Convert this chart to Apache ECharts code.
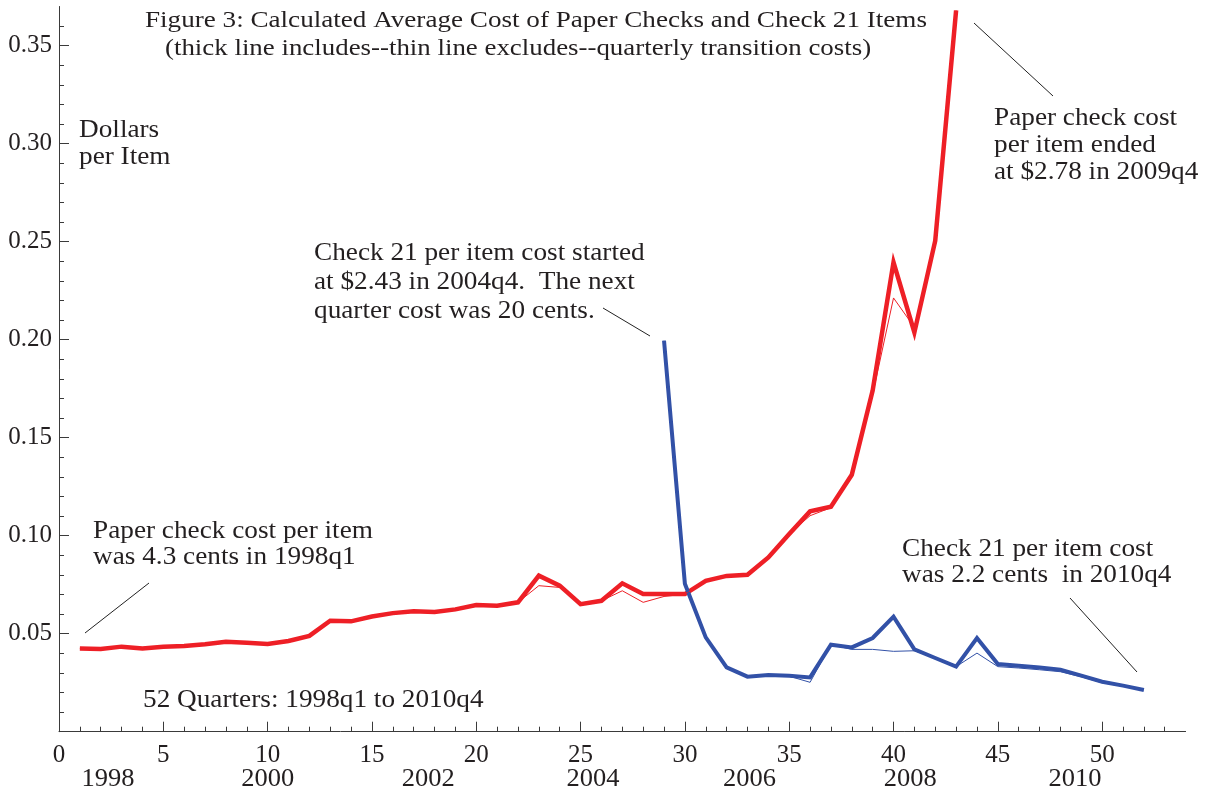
<!DOCTYPE html>
<html><head><meta charset="utf-8">
<script src="https://cdn.jsdelivr.net/npm/echarts@6/dist/echarts.min.js"></script>
<style>html,body{margin:0;padding:0;background:#fff}#c{width:1206px;height:792px}</style>
</head><body><div id="c"></div>
<script>
// Quarter index 1 = 1998q1
const paperStartQuarter = 1;
const paperThick = [0.0425,0.0422,0.0434,0.0425,0.0434,0.0437,0.0446,0.0459,0.0454,0.0447,
  0.0463,0.0489,0.0566,0.0563,0.0588,0.0605,0.0614,0.0611,0.0624,0.0646,
  0.0643,0.0660,0.0796,0.0745,0.0651,0.0668,0.0757,0.0702,0.0702,0.0702,
  0.0770,0.0795,0.0801,0.0889,0.1009,0.1124,0.1148,0.1311,0.1740,0.2395,
  0.2037,0.2505,0.3680];
const paperThin = [0.0425,0.0422,0.0434,0.0425,0.0434,0.0437,0.0446,0.0459,0.0454,0.0447,
  0.0463,0.0489,0.0566,0.0563,0.0588,0.0605,0.0614,0.0611,0.0624,0.0646,
  0.0643,0.0660,0.0745,0.0736,0.0651,0.0668,0.0719,0.0660,0.0690,0.0702,
  0.0765,0.0790,0.0798,0.0889,0.1009,0.1102,0.1143,0.1311,0.1720,0.2213,
  0.2063,0.2505,0.3680];
const check21StartQuarter = 29;
const check21Thick = [0.1995,0.0755,0.0481,0.0328,0.0281,0.0289,0.0286,0.0277,0.0444,0.0430,
  0.0478,0.0587,0.0420,0.0376,0.0332,0.0478,0.0345,0.0337,0.0328,0.0316,
  0.0286,0.0255,0.0235,0.0213];
const check21Thin = [0.1995,0.0755,0.0481,0.0328,0.0281,0.0289,0.0283,0.0252,0.0444,0.0420,
  0.0420,0.0410,0.0413,0.0376,0.0332,0.0401,0.0332,0.0325,0.0316,0.0306,
  0.0280,0.0250,0.0232,0.0213];

const xMajorTicks = [0,5,10,15,20,25,30,35,40,45,50];
const xMinorTicks = [1,2,3,4,6,7,8,9,11,12,13,14,16,17,18,19,21,22,23,24,26,27,28,29,
  31,32,33,34,36,37,38,39,41,42,43,44,46,47,48,49,51,52,53];
const yMajorTicks = [0.05,0.10,0.15,0.20,0.25,0.30,0.35];
const yMinorTicks = [0.01,0.02,0.03,0.04,0.06,0.07,0.08,0.09,0.11,0.12,0.13,0.14,
  0.16,0.17,0.18,0.19,0.21,0.22,0.23,0.24,0.26,0.27,0.28,0.29,0.31,0.32,0.33,0.34,0.36];
const yearLabels = ['1998','2000','2002','2004','2006','2008','2010'];
const yearPositions = [2.35,10.0,17.7,25.6,33.1,40.8,48.7];

const RED = '#ee1f26', BLUE = '#3251a7', AX = '#3a3a3a', TXT = '#231f20';
const FONT = '"Liberation Serif", "DejaVu Serif", serif';

function pairs(start, arr){ return arr.map((v,i)=>[start+i, v]); }

const chart = echarts.init(document.getElementById('c'), null, {renderer:'canvas'});

const baseX = {type:'value', min:0, max:54, interval:1, gridIndex:0, position:'bottom',
  splitLine:{show:false}};
const baseY = {type:'value', min:0, max:0.37, interval:0.01, gridIndex:0, position:'left',
  splitLine:{show:false}};

chart.setOption({
  animation:false,
  backgroundColor:'#fff',
  grid:{left:59, right:20.4, top:6.5, bottom:60.3, containLabel:false},
  xAxis:[
    Object.assign({}, baseX, {
      axisLine:{show:true, lineStyle:{color:AX, width:1}},
      axisTick:{show:true, inside:true, length:10, customValues:xMajorTicks, lineStyle:{color:AX}},
      axisLabel:{show:true, customValues:xMajorTicks, margin:11, color:TXT, fontSize:25, fontFamily:FONT,
        formatter:v=>String(v)}
    }),
    Object.assign({}, baseX, {
      axisLine:{show:false},
      axisTick:{show:true, inside:true, length:5, customValues:xMinorTicks, lineStyle:{color:AX}},
      axisLabel:{show:false}
    })
  ],
  yAxis:[
    Object.assign({}, baseY, {
      axisLine:{show:true, lineStyle:{color:AX, width:1}},
      axisTick:{show:true, inside:true, length:10, customValues:yMajorTicks, lineStyle:{color:AX}},
      axisLabel:{show:true, customValues:yMajorTicks, margin:7, color:TXT, fontSize:25, fontFamily:FONT,
        formatter:v=>v.toFixed(2)}
    }),
    Object.assign({}, baseY, {
      axisLine:{show:false},
      axisTick:{show:true, inside:true, length:5, customValues:yMinorTicks, lineStyle:{color:AX}},
      axisLabel:{show:false}
    })
  ],
  series:[
    {type:'line', name:'Paper (incl.)', data:pairs(paperStartQuarter, paperThick), showSymbol:false,
      lineStyle:{color:RED, width:4.5, join:'miter'}, clip:true, z:3},
    {type:'line', name:'Paper (excl.)', data:pairs(paperStartQuarter, paperThin), showSymbol:false,
      lineStyle:{color:RED, width:1}, clip:true, z:4},
    {type:'line', name:'Check 21 (incl.)', data:pairs(check21StartQuarter, check21Thick), showSymbol:false,
      lineStyle:{color:BLUE, width:4, join:'miter'}, clip:true, z:3},
    {type:'line', name:'Check 21 (excl.)', data:pairs(check21StartQuarter, check21Thin), showSymbol:false,
      lineStyle:{color:BLUE, width:1}, clip:true, z:4}
  ]
});

function txt(text, x, y, size, sx, align){
  return {type:'text', silent:true, z:10, x:x, y:y, scaleX:sx, scaleY:1,
    style:{text:text, x:0, y:0, fill:TXT, fontSize:size, fontFamily:FONT,
      align:align||'left', verticalAlign:'middle'}};
}
function leader(x1,y1,x2,y2){
  return {type:'line', silent:true, z:10, shape:{x1:x1,y1:y1,x2:x2,y2:y2},
    style:{stroke:'#222', lineWidth:1}};
}

const A = 25, AS = 1.09;   // annotation font size / horizontal stretch
const g = [
  txt('Figure 3: Calculated Average Cost of Paper Checks and Check 21 Items', 145, 21, 24, 1.13),
  txt('(thick line includes--thin line excludes--quarterly transition costs)', 165, 49, 24, 1.12),
  txt('Dollars', 79, 130, A, AS),
  txt('per Item', 79, 157, A, AS),
  txt('Check 21 per item cost started', 314, 253, A, AS),
  txt('at $2.43 in 2004q4.  The next', 314, 282, A, AS),
  txt('quarter cost was 20 cents.', 314, 311, A, AS),
  txt('Paper check cost', 994, 118, A, AS),
  txt('per item ended', 994, 145, A, AS),
  txt('at $2.78 in 2009q4', 994, 172, A, AS),
  txt('Paper check cost per item', 93, 531, A, AS),
  txt('was 4.3 cents in 1998q1', 93, 557, A, AS),
  txt('52 Quarters: 1998q1 to 2010q4', 143, 700, A, AS),
  txt('Check 21 per item cost', 902, 549, A, AS),
  txt('was 2.2 cents  in 2010q4', 902, 575, A, AS),
  leader(85,633,149,583),
  leader(603,308,650,336),
  leader(974,23,1053,96),
  leader(1070,598,1137,672)
];
yearLabels.forEach((lab,i)=>{
  const px = chart.convertToPixel({xAxisIndex:0}, yearPositions[i]);
  g.push(txt(lab, px, 779, 25, 1.06, 'center'));
});
chart.setOption({graphic:g});
</script>
</body></html>
